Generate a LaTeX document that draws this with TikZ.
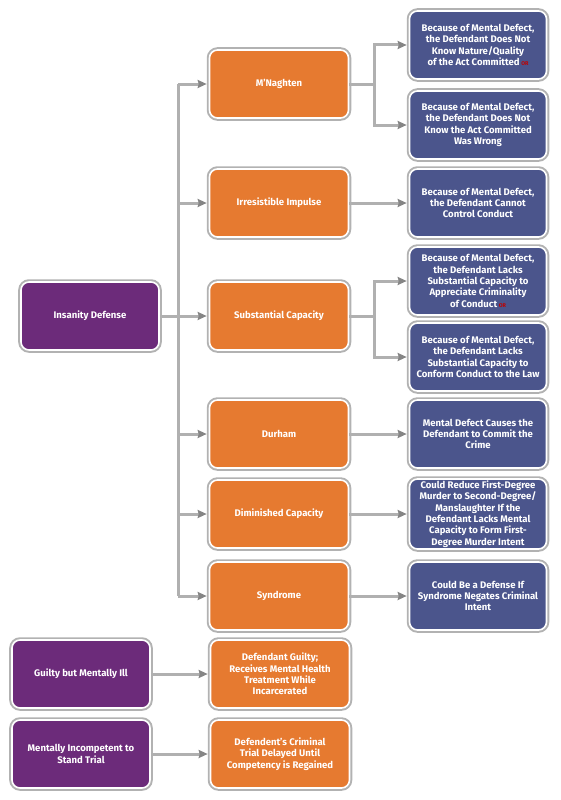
\documentclass[tikz,border=0pt]{standalone}
\usepackage{fontspec}
\setmainfont{Fira Sans}
\usetikzlibrary{arrows.meta}
\definecolor{orng}{HTML}{E67A30}
\definecolor{blu}{HTML}{4B558C}
\definecolor{purp}{HTML}{6C2B7A}
\definecolor{lnk}{HTML}{B0B0B0}
\definecolor{tip}{HTML}{858585}
\begin{document}
\begin{tikzpicture}[x=1bp,y=-1bp,
  box/.style={rounded corners=8bp, draw=white, line width=1.6bp,
    preaction={draw=black!30, line width=5.5bp},
    text=white, font=\bfseries\fontsize{9.6}{11.4}\selectfont, align=center, inner sep=0pt},
  obox/.style={box, fill=orng, minimum width=139bp, minimum height=68bp},
  bbox/.style={box, fill=blu, minimum width=137bp, minimum height=68bp},
  pbox/.style={box, fill=purp, minimum width=138bp, minimum height=68bp},
  conn/.style={draw=lnk, line width=3bp},
  arr/.style={conn, shorten >=2bp, -{Stealth[length=9bp, width=8bp, inset=1bp, color=tip]}}
]
\useasboundingbox (0,0) rectangle (561,800);
\newcommand{\orword}{\,\textcolor{red!75!black}{\fontsize{5.5}{6}\selectfont OR}}

% left
\node[pbox] (ins) at (90,316) {Insanity Defense};
\node[pbox] (gmi) at (81,674) {Guilty but Mentally Ill};
\node[pbox] (mit) at (81,754) {Mentally Incompetent to\\Stand Trial};

% orange column
\node[obox] (mn) at (279,84) {M’Naghten};
\node[obox] (ii) at (279,203) {Irresistible Impulse};
\node[obox] (sc) at (279,316) {Substantial Capacity};
\node[obox] (du) at (279,434) {Durham};
\node[obox] (dc) at (279,514) {Diminished Capacity};
\node[obox] (sy) at (279,596) {Syndrome};
\node[obox] (dg) at (280,674) {Defendant Guilty;\\Receives Mental Health\\Treatment While\\Incarcerated};
\node[obox] (dt) at (280,754) {Defendent’s Criminal\\Trial Delayed Until\\Competency is Regained};

% blue column
\node[bbox] (b1) at (478,45) {Because of Mental Defect,\\the Defendant Does Not\\Know Nature/Quality\\of the Act Committed\orword};
\node[bbox] (b2) at (478,125) {Because of Mental Defect,\\the Defendant Does Not\\Know the Act Committed\\Was Wrong};
\node[bbox] (b3) at (478,203) {Because of Mental Defect,\\the Defendant Cannot\\Control Conduct};
\node[bbox] (b4) at (478,281) {Because of Mental Defect,\\the Defendant Lacks\\Substantial Capacity to\\Appreciate Criminality\\of Conduct\orword};
\node[bbox] (b5) at (478,357) {Because of Mental Defect,\\the Defendant Lacks\\Substantial Capacity to\\Conform Conduct to the Law};
\node[bbox] (b6) at (478,434) {Mental Defect Causes the\\Defendant to Commit the\\Crime};
\node[bbox, minimum height=70bp] (b7) at (478,514) {Could Reduce First-Degree\\Murder to Second-Degree/\\Manslaughter If the\\Defendant Lacks Mental\\Capacity to Form First-\\Degree Murder Intent};
\node[bbox] (b8) at (478,596) {Could Be a Defense If\\Syndrome Negates Criminal\\Intent};

% trunk
\coordinate (tt) at (178,84);
\coordinate (tb) at (178,596);
\coordinate (tj) at (178,316);
\draw[conn] (tt) -- (tb);
\draw[conn] (ins.east) -- (tj);
\draw[arr] (tt) -- (mn.west);
\draw[arr] (tt |- ii) -- (ii.west);
\draw[arr] (tj) -- (sc.west);
\draw[arr] (tt |- du) -- (du.west);
\draw[arr] (tt |- dc) -- (dc.west);
\draw[arr] (tb) -- (sy.west);

% branches
\coordinate (bm) at (374,84);
\coordinate (bs) at (374,316);
\draw[arr] (mn.east) -- (bm) |- (b1.west);
\draw[arr] (bm) |- (b2.west);
\draw[arr] (ii.east) -- (b3.west);
\draw[arr] (sc.east) -- (bs) |- (b4.west);
\draw[arr] (bs) |- (b5.west);
\draw[arr] (du.east) -- (b6.west);
\draw[arr] (dc.east) -- (b7.west);
\draw[arr] (sy.east) -- (b8.west);
\draw[arr] (gmi.east) -- (dg.west);
\draw[arr] (mit.east) -- (dt.west);
\end{tikzpicture}
\end{document}
